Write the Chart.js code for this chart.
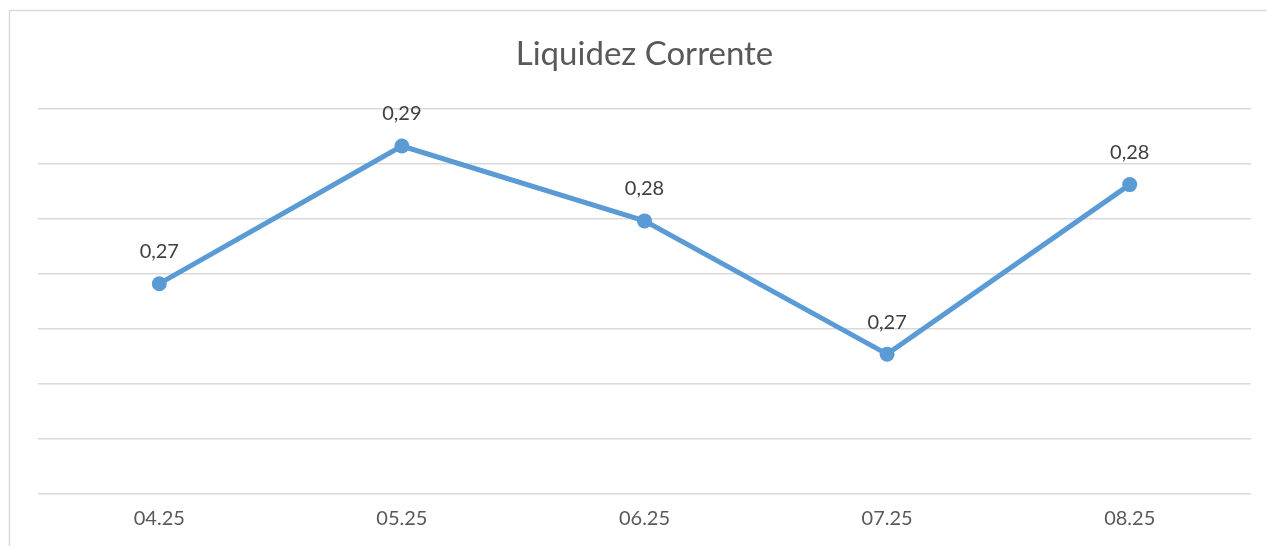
<!DOCTYPE html>
<html lang="pt">
<head>
  <meta charset="UTF-8">
  <title>Liquidez Corrente</title>
  <script src="https://cdn.jsdelivr.net/npm/chart.js"></script>
  <style>
    html, body { margin: 0; padding: 0; background: #fff; }
    #wrap { width: 1267px; height: 546px; }
  </style>
</head>
<body>
  <div id="wrap"><canvas id="liquidez_chart" width="1267" height="546"></canvas></div>

  <script>
    // Liquidez corrente por mês
    const months = ['04.25', '05.25', '06.25', '07.25', '08.25'];
    const liquidez = [0.2741, 0.2866, 0.2798, 0.2677, 0.2831];

    // Eixo Y (oculto, só as linhas de grade)
    const yMin = 0.255;
    const yMax = 0.29;
    const yStep = 0.005;

    const lineColor = '#5B9BD5';
    const textColor = '#595959';
    const fontFamily = 'Lato, "Open Sans", sans-serif';

    // moldura do gráfico (estilo Excel)
    const frame = {
      id: 'frame',
      beforeDraw(chart) {
        const ctx = chart.ctx;
        ctx.save();
        ctx.strokeStyle = '#d9d9d9';
        ctx.lineWidth = 1.5;
        ctx.beginPath();
        ctx.moveTo(9.5, chart.height);
        ctx.lineTo(9.5, 10.5);
        ctx.lineTo(chart.width, 10.5);
        ctx.stroke();
        ctx.restore();
      }
    };

    // rótulos de dados acima dos pontos
    const dataLabels = {
      id: 'dataLabels',
      afterDatasetsDraw(chart) {
        const ctx = chart.ctx;
        const meta = chart.getDatasetMeta(0);
        ctx.save();
        ctx.font = '20px ' + fontFamily;
        ctx.fillStyle = '#404040';
        ctx.textAlign = 'center';
        ctx.textBaseline = 'middle';
        meta.data.forEach((pt, i) => {
          const txt = liquidez[i].toFixed(2).replace('.', ',');
          ctx.fillText(txt, pt.x, pt.y - 32);
        });
        ctx.restore();
      }
    };

    new Chart(document.getElementById('liquidez_chart'), {
      type: 'line',
      data: {
        labels: months,
        datasets: [{
          label: 'Liquidez Corrente',
          data: liquidez,
          borderColor: lineColor,
          backgroundColor: lineColor,
          borderWidth: 5,
          tension: 0,
          pointRadius: 7.5,
          pointBorderWidth: 0,
          pointBackgroundColor: lineColor
        }]
      },
      options: {
        responsive: false,
        animation: false,
        layout: { padding: { left: 38, right: 16, top: 0, bottom: 10 } },
        plugins: {
          legend: { display: false },
          tooltip: { enabled: false },
          title: {
            display: true,
            text: 'Liquidez Corrente',
            color: textColor,
            font: { family: fontFamily, size: 33, weight: 'normal' },
            padding: { top: 35, bottom: 34 }
          }
        },
        scales: {
          x: {
            offset: true,
            grid: { display: false },
            border: { display: false },
            ticks: {
              color: textColor,
              padding: 5,
              font: { family: fontFamily, size: 20 }
            }
          },
          y: {
            min: yMin,
            max: yMax,
            ticks: { display: false, stepSize: yStep },
            border: { display: false },
            grid: { color: '#d9d9d9', lineWidth: 1.5, drawTicks: false, tickLength: 0 }
          }
        }
      },
      plugins: [frame, dataLabels]
    });
  </script>
</body>
</html>
